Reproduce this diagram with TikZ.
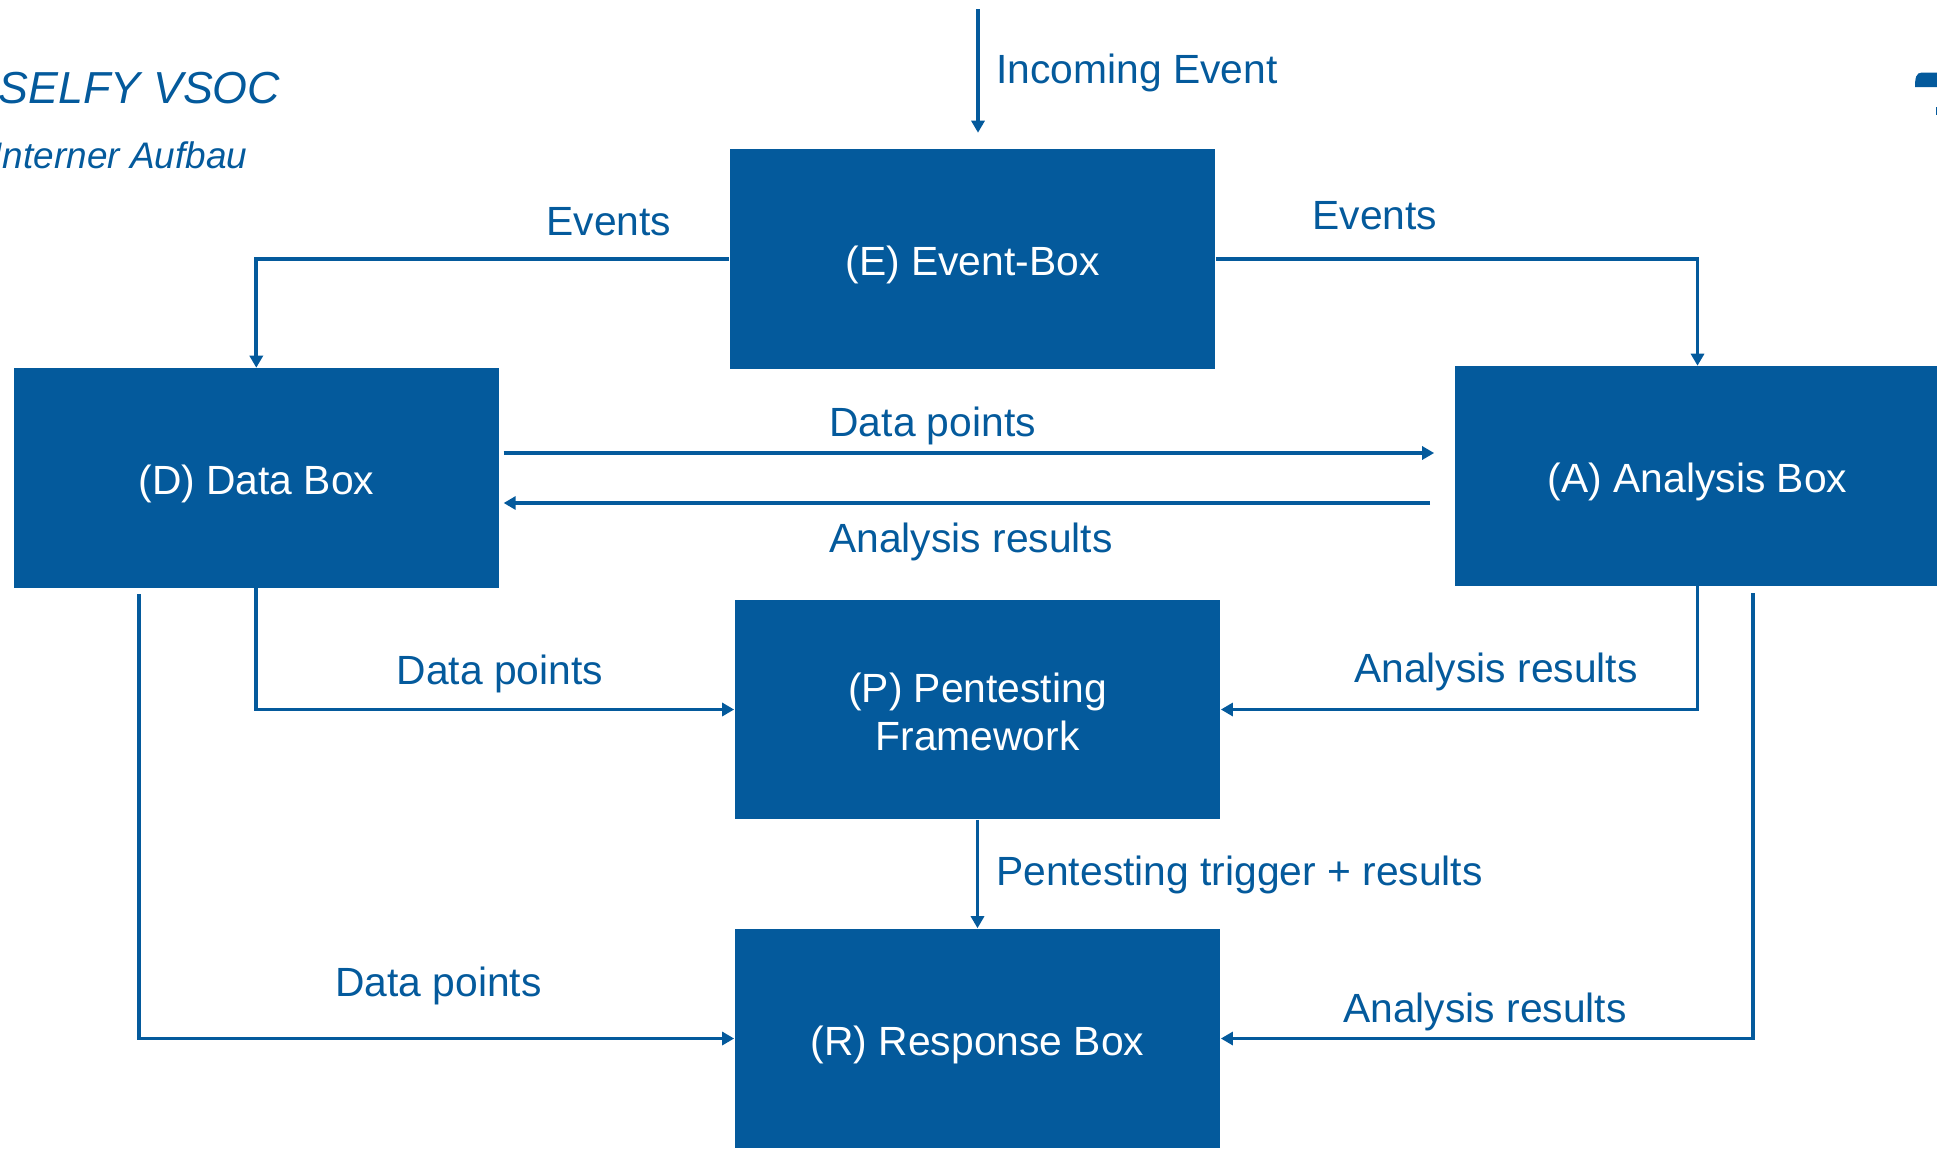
\documentclass[tikz,border=0pt]{standalone}
\usepackage{fontspec}
\setmainfont{Liberation Sans}
\usetikzlibrary{arrows.meta,calc}
\definecolor{vsocblue}{RGB}{4,90,156}
\begin{document}
\begin{tikzpicture}[x=0.01cm,y=-0.01cm,
  box/.style={fill=vsocblue, draw=none, minimum width=4.85cm, minimum height=2.19cm, inner sep=0pt},
  boxtext/.style={text=white, font=\fontsize{11.6}{13.7}\selectfont, align=center, inner sep=0pt},
  flow/.style={draw=vsocblue, line width=1.1pt,
    -{Triangle[length=0.12cm,width=0.13cm]}},
  lbl/.style={text=vsocblue, font=\fontsize{11.6}{13.7}\selectfont, inner sep=0pt, anchor=base},
  ]
\useasboundingbox (0,0) rectangle (1937,1148);

% heading
\node[lbl, anchor=base west, font=\fontsize{12.75}{15}\selectfont\itshape] (title) at (-2,103) {SELFY VSOC};
\node[lbl, anchor=base west, font=\fontsize{10.5}{13}\selectfont\itshape] (sub) at (-8,168) {Interner Aufbau};

% logo fragment at the corner
\fill[vsocblue] (1937,72.5) -- (1922,72.5) .. controls (1916,72.5) and (1915,78) .. (1915,87) -- (1937,87) -- cycle;
\fill[vsocblue] (1935.5,107) rectangle (1937,115);

% boxes
\node[box] (E) at (972.5,259) {};
\node[box] (D) at (256.3,478) {};
\node[box] (A) at (1697.5,476) {};
\node[box] (P) at (977.5,709.5) {};
\node[box] (R) at (977.5,1038.5) {};
\node[boxtext] (Et) at ($(E.center)+(0,6)$) {(E) Event-Box};
\node[boxtext] (Dt) at ($(D.center)+(0,6)$) {(D) Data Box};
\node[boxtext] (At) at ($(A.center)+(0,6)$) {(A) Analysis Box};
\node[boxtext] (Pt) at ($(P.center)+(0,2.5)$) {(P) Pentesting\\Framework};
\node[boxtext] (Rt) at ($(R.center)+(0,6)$) {(R) Response Box};

% incoming event
\coordinate (inTop) at (978,9);
\draw[flow, shorten >=0.16cm] (inTop) -- (inTop |- E.north);

% event distribution
\draw[flow] (E.west) -| (D.north);
\draw[flow] (E.east) -| (A.north);

% data box <-> analysis box
\coordinate (da) at ($(D.east)+(0,-25)$);
\coordinate (ad) at ($(D.east)+(0,25)$);
\draw[flow, shorten <=0.04cm, shorten >=0.2cm] (da) -- (da -| A.west);
\draw[flow, shorten <=0.24cm, shorten >=0.04cm] (ad -| A.west) -- (ad);

% into the pentesting framework
\draw[flow] (D.south) |- (P.west);
\draw[flow] (A.south) |- (P.east);

% into the response box
\draw[flow] (P.south) -- (R.north);
\coordinate (dr) at ($(D.south west)+(126,6)$);
\coordinate (ar) at ($(A.south)+(55.5,7)$);
\draw[flow] (dr) |- (R.west);
\draw[flow] (ar) |- (R.east);

% connector labels
\node[lbl, anchor=base west] (tIn) at (995.7,83.5) {Incoming Event};
\node[lbl] (tEvL) at (609,235.5) {Events};
\node[lbl] (tEvR) at (1375,229.5) {Events};
\node[lbl] (tDA) at (932.7,436.5) {Data points};
\node[lbl] (tAD) at (971,552.5) {Analysis results};
\node[lbl] (tDP) at (500,684.5) {Data points};
\node[lbl] (tAP) at (1496,682.5) {Analysis results};
\node[lbl, anchor=base west] (tPR) at (995.7,885.5) {Pentesting trigger + results};
\node[lbl] (tDR) at (438.5,996.5) {Data points};
\node[lbl] (tAR) at (1485,1022.5) {Analysis results};
\end{tikzpicture}
\end{document}
